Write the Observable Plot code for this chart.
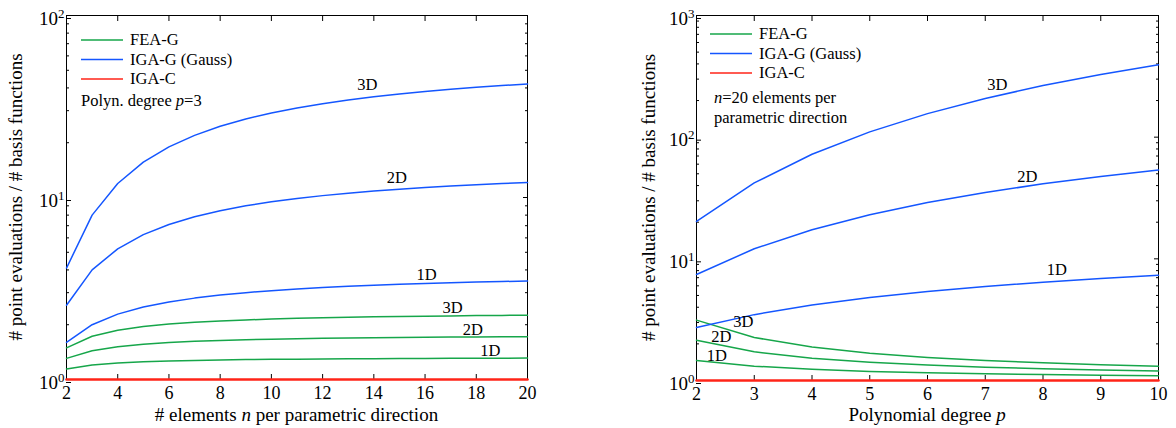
<!DOCTYPE html>
<html>
<head>
<meta charset="utf-8">
<script src="https://cdn.jsdelivr.net/npm/d3@7"></script>
<script src="https://cdn.jsdelivr.net/npm/@observablehq/plot@0.6"></script>
<style>
  body { margin: 0; background: #fff; }
  #wrap { position: relative; width: 1176px; height: 428px; background: #fff; }
  #wrap svg { position: absolute; top: 0; }
  #wrap svg, #wrap svg text { font-family: "Liberation Serif", "Times New Roman", "DejaVu Serif", serif; }
</style>
</head>
<body>
<div id="wrap"></div>
<script>
// ---- Left panel: polynomial degree p = 3, varying number of elements n ----
const nElements = [2, 3, 4, 5, 6, 7, 8, 9, 10, 11, 12, 13, 14, 15, 16, 17, 18, 19, 20];
const leftFEA1D = [1.143, 1.200, 1.231, 1.250, 1.263, 1.273, 1.280, 1.286, 1.290, 1.294, 1.297, 1.300, 1.302, 1.304, 1.306, 1.308, 1.309, 1.310, 1.311];
const leftFEA2D = [1.306, 1.440, 1.515, 1.563, 1.596, 1.620, 1.638, 1.653, 1.665, 1.675, 1.683, 1.690, 1.696, 1.701, 1.706, 1.710, 1.714, 1.717, 1.720];
const leftFEA3D = [1.493, 1.728, 1.864, 1.953, 2.016, 2.062, 2.097, 2.125, 2.148, 2.167, 2.183, 2.197, 2.209, 2.219, 2.228, 2.236, 2.244, 2.250, 2.256];
const leftIGA1D = [1.600, 2.000, 2.286, 2.500, 2.667, 2.800, 2.909, 3.000, 3.077, 3.143, 3.200, 3.250, 3.294, 3.333, 3.368, 3.400, 3.429, 3.455, 3.478];
const leftIGA2D = [2.560, 4.000, 5.224, 6.250, 7.111, 7.840, 8.463, 9.000, 9.467, 9.878, 10.24, 10.56, 10.85, 11.11, 11.35, 11.56, 11.76, 11.93, 12.10];
const leftIGA3D = [4.096, 8.000, 11.94, 15.63, 18.96, 21.95, 24.62, 27.00, 29.13, 31.04, 32.77, 34.33, 35.75, 37.04, 38.22, 39.30, 40.30, 41.23, 42.08];
const leftIGAC  = [1, 1, 1, 1, 1, 1, 1, 1, 1, 1, 1, 1, 1, 1, 1, 1, 1, 1, 1];

// ---- Right panel: n = 20 elements, varying polynomial degree p ----
const pDegrees = [2, 3, 4, 5, 6, 7, 8, 9, 10];
const rightFEA1D = [1.463, 1.311, 1.235, 1.188, 1.157, 1.135, 1.118, 1.105, 1.095];
const rightFEA2D = [2.142, 1.720, 1.524, 1.412, 1.339, 1.288, 1.250, 1.221, 1.198];
const rightFEA3D = [3.134, 2.256, 1.882, 1.677, 1.549, 1.461, 1.397, 1.349, 1.311];
const rightIGA1D = [2.727, 3.478, 4.167, 4.800, 5.385, 5.926, 6.429, 6.897, 7.333];
const rightIGA2D = [7.438, 12.10, 17.36, 23.04, 28.99, 35.12, 41.33, 47.56, 53.78];
const rightIGA3D = [20.28, 42.08, 72.34, 110.6, 156.1, 208.1, 265.7, 328.0, 394.4];
const rightIGAC  = [1, 1, 1, 1, 1, 1, 1, 1, 1];

// Tick values
const leftXTicks = [2, 4, 6, 8, 10, 12, 14, 16, 18, 20];
const rightXTicks = [2, 3, 4, 5, 6, 7, 8, 9, 10];
const leftYMajor = [1, 10, 100];
const rightYMajor = [1, 10, 100, 1000];
const leftYMinor = [2, 3, 4, 5, 6, 7, 8, 9, 20, 30, 40, 50, 60, 70, 80, 90];
const rightYMinor = [2, 3, 4, 5, 6, 7, 8, 9, 20, 30, 40, 50, 60, 70, 80, 90, 200, 300, 400, 500, 600, 700, 800, 900];

// Curve labels (x, y in data units)
const leftLabels = [
  {method: "IGA-G", text: "3D", x: 13.75, y: 38.9},
  {method: "IGA-G", text: "2D", x: 14.9, y: 12.0},
  {method: "IGA-G", text: "1D", x: 16.06, y: 3.51},
  {method: "FEA-G", text: "3D", x: 17.07, y: 2.33},
  {method: "FEA-G", text: "2D", x: 17.87, y: 1.767},
  {method: "FEA-G", text: "1D", x: 18.55, y: 1.348}
];
const rightLabels = [
  {method: "IGA-G", text: "3D", x: 7.21, y: 245},
  {method: "IGA-G", text: "2D", x: 7.73, y: 43.2},
  {method: "IGA-G", text: "1D", x: 8.24, y: 7.43},
  {method: "FEA-G", text: "3D", x: 2.81, y: 2.74},
  {method: "FEA-G", text: "2D", x: 2.43, y: 2.06},
  {method: "FEA-G", text: "1D", x: 2.35, y: 1.44}
];

const methods = ["FEA-G", "IGA-G (Gauss)", "IGA-C"];
const colors = {"FEA-G": "#16a64a", "IGA-G (Gauss)": "#1456ff", "IGA-C": "#ff2418"};
const FONT = "'Liberation Serif', 'Times New Roman', 'DejaVu Serif', serif";

function rows(xs, seriesList) {
  const out = [];
  for (const [method, dim, ys] of seriesList) {
    xs.forEach((x, i) => out.push({x, y: ys[i], method, key: method + " " + dim}));
  }
  return out;
}

const leftRows = rows(nElements, [
  ["FEA-G", "1D", leftFEA1D], ["FEA-G", "2D", leftFEA2D], ["FEA-G", "3D", leftFEA3D],
  ["IGA-G (Gauss)", "1D", leftIGA1D], ["IGA-G (Gauss)", "2D", leftIGA2D], ["IGA-G (Gauss)", "3D", leftIGA3D],
  ["IGA-C", "all", leftIGAC]
]);
const rightRows = rows(pDegrees, [
  ["FEA-G", "1D", rightFEA1D], ["FEA-G", "2D", rightFEA2D], ["FEA-G", "3D", rightFEA3D],
  ["IGA-G (Gauss)", "1D", rightIGA1D], ["IGA-G (Gauss)", "2D", rightIGA2D], ["IGA-G (Gauss)", "3D", rightIGA3D],
  ["IGA-C", "all", rightIGAC]
]);

function panel(cfg) {
  const svg = Plot.plot({
    width: 588,
    height: 428,
    marginLeft: cfg.ml, marginRight: cfg.mr, marginTop: cfg.mt, marginBottom: cfg.mb,
    style: {fontFamily: FONT, fontSize: "18px", color: "#000", background: "transparent", overflow: "visible"},
    x: {domain: cfg.xDomain},
    y: {type: "log", domain: cfg.yDomain},
    marks: [
      Plot.frame({stroke: "#000", strokeWidth: 1}),
      Plot.axisX({ticks: cfg.xTicks, anchor: "bottom", tickSize: -5, tickPadding: 12, label: null, fontSize: 18}),
      Plot.axisX({ticks: cfg.xTicks, anchor: "top", tickSize: -5, tickFormat: () => "", label: null}),
      Plot.axisY({ticks: cfg.yMajor, anchor: "left", tickSize: -5, tickPadding: 7, dy: 3, label: null, fontSize: 19,
                  tickFormat: d => `10^${Math.round(Math.log10(d))}`}),
      Plot.axisY({ticks: cfg.yMinor, anchor: "left", tickSize: -3, tickFormat: () => "", label: null}),
      Plot.axisY({ticks: cfg.yMajor, anchor: "right", tickSize: -5, tickFormat: () => "", label: null}),
      Plot.axisY({ticks: cfg.yMinor, anchor: "right", tickSize: -3, tickFormat: () => "", label: null}),
      Plot.line(cfg.data.filter(d => d.method !== "IGA-C"), {
        x: "x", y: "y", z: "key", stroke: d => colors[d.method], strokeWidth: 1.5
      }),
      Plot.line(cfg.data.filter(d => d.method === "IGA-C"), {
        x: "x", y: "y", z: "key", stroke: colors["IGA-C"], strokeWidth: 2.6
      }),
      Plot.text(cfg.labels, {x: "x", y: "y", text: "text", lineAnchor: "bottom", textAnchor: "middle",
                             fontSize: 16.5, fill: "#000"})
    ]
  });

  const s = d3.select(svg);
  s.style("left", cfg.left + "px");

  // Superscript exponents on the y tick labels
  s.selectAll('g[aria-label="y-axis tick label"] text').each(function () {
    const t = d3.select(this);
    const txt = t.text();
    if (!txt.includes("^")) return;
    const [base, exp] = txt.split("^");
    t.text(base);
    t.append("tspan").attr("dy", "-7px").attr("font-size", "13px").text(exp);
  });

  // Legend inside the frame
  const lg = s.append("g").attr("font-family", FONT).attr("font-size", 16.5).attr("text-anchor", "start");
  methods.forEach((m, i) => {
    const y = cfg.legendY + i * 19.5;
    lg.append("line")
      .attr("x1", cfg.legendX).attr("x2", cfg.legendX + 42)
      .attr("y1", y).attr("y2", y)
      .attr("stroke", colors[m]).attr("stroke-width", 1.6);
    lg.append("text").attr("x", cfg.legendX + 49).attr("y", y + 5).text(m);
  });

  // Note text
  cfg.note.forEach((line, i) => {
    const t = lg.append("text").attr("x", cfg.noteX).attr("y", cfg.noteY + i * 20);
    line.forEach(([str, italic]) => t.append("tspan").attr("font-style", italic ? "italic" : null).text(str));
  });

  // Axis titles
  const xt = s.append("text")
    .attr("x", (cfg.ml + 588 - cfg.mr) / 2).attr("y", 420.5)
    .attr("text-anchor", "middle").attr("font-family", FONT).attr("font-size", 19);
  cfg.xTitle.forEach(([str, italic]) => xt.append("tspan").attr("font-style", italic ? "italic" : null).text(str));

  s.append("text")
    .attr("transform", `translate(${cfg.yTitleX},${(cfg.mt + 428 - cfg.mb) / 2}) rotate(-90)`)
    .attr("text-anchor", "middle").attr("font-family", FONT).attr("font-size", 19)
    .text("# point evaluations / # basis functions");

  return svg;
}

const wrap = document.getElementById("wrap");

wrap.appendChild(panel({
  left: 0, ml: 66, mr: 61, mt: 15, mb: 49,
  xDomain: [2, 20], yDomain: [1, 100],
  xTicks: leftXTicks, yMajor: leftYMajor, yMinor: leftYMinor,
  data: leftRows, labels: leftLabels,
  legendX: 81, legendY: 40,
  noteX: 81, noteY: 106,
  note: [[["Polyn. degree ", false], ["p", true], ["=3", false]]],
  xTitle: [["# elements ", false], ["n", true], [" per parametric direction", false]],
  yTitleX: 22
}));

wrap.appendChild(panel({
  left: 588, ml: 108, mr: 18, mt: 15, mb: 48,
  xDomain: [2, 10], yDomain: [1, 1000],
  xTicks: rightXTicks, yMajor: rightYMajor, yMinor: rightYMinor,
  data: rightRows, labels: rightLabels,
  legendX: 122, legendY: 34,
  noteX: 126, noteY: 103,
  note: [[["n", true], ["=20 elements per", false]], [["parametric direction", false]]],
  xTitle: [["Polynomial degree ", false], ["p", true]],
  yTitleX: 67
}));
</script>
</body>
</html>
